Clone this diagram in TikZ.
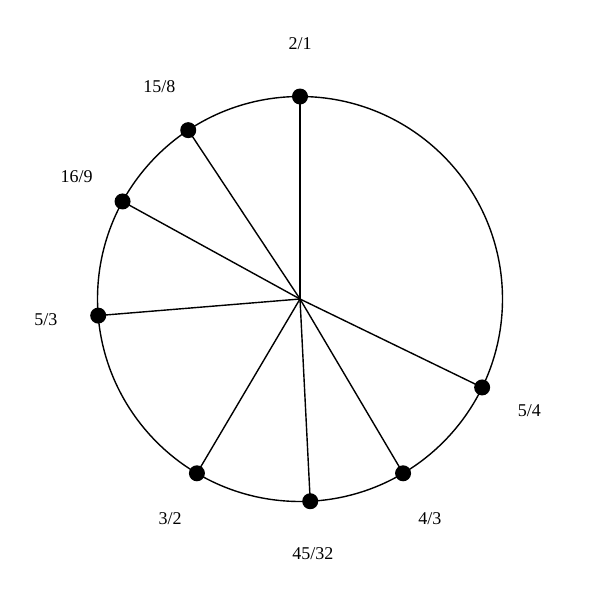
\documentclass[tikz,border=0pt]{standalone}
\usepackage{fontspec}
\setmainfont{Liberation Serif}
\usetikzlibrary{calc}
\begin{document}
\begin{tikzpicture}[x=1pt,y=-1pt,
  dot/.style={circle,fill=black,inner sep=0pt,minimum size=16pt},
  lbl/.style={font=\fontsize{18}{21}\selectfont,inner sep=0pt},
  spoke/.style={line width=1.4pt}]
\useasboundingbox (0,0) rectangle (600,600);
\coordinate (c) at (300,299);
\draw[line width=1.4pt] (c) circle (202.5);
\foreach \name/\txt/\ang in {a/2\slash 1/0, b/5\slash 4/115.9, c4/4\slash 3/149.4, d/45\slash 32/177.1, e/3\slash 2/210.6, f/5\slash 3/265.3, g/16\slash 9/298.8, h/15\slash 8/326.5}{
  \node[dot] (\name) at ($(c)+({202.5*sin(\ang)},{-202.5*cos(\ang)})$) {};
  \draw[spoke] (c) -- (\name.center);
  \node[lbl] (l\name) at ($(c)+({255*sin(\ang)},{-255*cos(\ang)})$) {\txt};
}
\end{tikzpicture}
\end{document}
